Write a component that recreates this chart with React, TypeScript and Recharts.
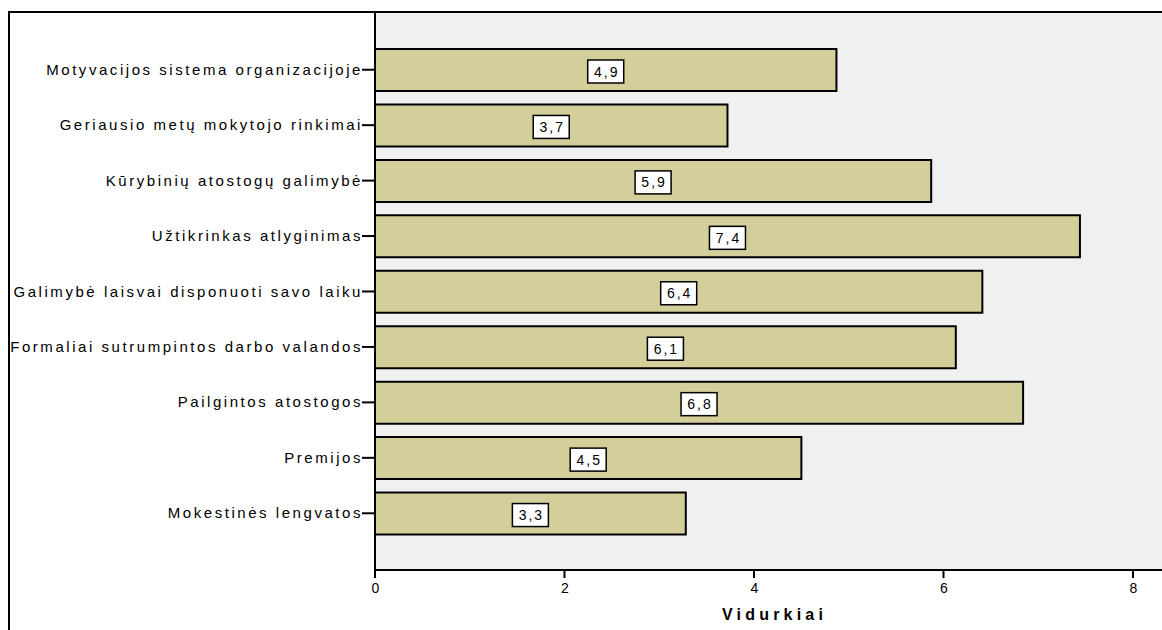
import { BarChart, Bar, XAxis, YAxis, CartesianGrid, LabelList } from "recharts";

const categories = [
  "Motyvacijos sistema organizacijoje",
  "Geriausio metų mokytojo rinkimai",
  "Kūrybinių atostogų galimybė",
  "Užtikrinkas atlyginimas",
  "Galimybė laisvai disponuoti savo laiku",
  "Formaliai sutrumpintos darbo valandos",
  "Pailgintos atostogos",
  "Premijos",
  "Mokestinės lengvatos",
];

const means = [4.87, 3.72, 5.87, 7.44, 6.41, 6.13, 6.84, 4.5, 3.28];

const meanLabels = ["4,9", "3,7", "5,9", "7,4", "6,4", "6,1", "6,8", "4,5", "3,3"];

const xTicks = [0, 2, 4, 6, 8];

const data = categories.map((name, i) => ({
  name,
  value: means[i],
  label: meanLabels[i],
}));

const font = "'Liberation Sans', Arial, sans-serif";

const BoxLabel = (props: any) => {
  const { x, y, width, height, value } = props;
  const cx = x + width / 2;
  const cy = y + height / 2 + 1.5;
  const w = 36;
  const h = 23;
  return (
    <g>
      <rect
        x={cx - w / 2}
        y={cy - h / 2}
        width={w}
        height={h}
        fill="#ffffff"
        stroke="#000000"
        strokeWidth={1.5}
      />
      <text
        x={cx + 1}
        y={cy + 5}
        textAnchor="middle"
        fontFamily={font}
        fontSize={14}
        fill="#000000"
        style={{ letterSpacing: "2px" }}
      >
        {value}
      </text>
    </g>
  );
};

const YTick = (props: any) => {
  const { x, y, payload } = props;
  return (
    <text
      x={x + 2}
      y={y + 5}
      textAnchor="end"
      fontFamily={font}
      fontSize={15}
      fill="#000"
      style={{ letterSpacing: "2.55px" }}
    >
      {payload.value}
    </text>
  );
};

const XTick = (props: any) => {
  const { x, y, payload } = props;
  return (
    <text
      x={x + 0.5}
      y={y + 9}
      textAnchor="middle"
      fontFamily={font}
      fontSize={14}
      fill="#000"
    >
      {payload.value}
    </text>
  );
};

const AxisTitle = (props: any) => {
  const { viewBox } = props;
  const cx = viewBox.x + viewBox.width / 2 + 6;
  return (
    <text
      x={cx}
      y={620}
      textAnchor="middle"
      fontFamily={font}
      fontSize={16}
      fontWeight="bold"
      fill="#000"
      style={{ letterSpacing: "4.2px" }}
    >
      Vidurkiai
    </text>
  );
};

const App = () => {
  return (
    <div
      style={{
        position: "absolute",
        left: 0,
        top: 0,
        width: 1162,
        height: 630,
        overflow: "hidden",
        background: "#ffffff",
        fontFamily: font,
      }}
    >
      <div
        style={{
          position: "absolute",
          left: 8,
          top: 11,
          width: 1200,
          height: 700,
          borderLeft: "2px solid #000",
          borderTop: "2px solid #000",
        }}
      />
      <div style={{ position: "absolute", left: 0, top: 0 }}>
        <BarChart
          width={1162}
          height={630}
          data={data}
          layout="vertical"
          margin={{ top: 13, right: 0, bottom: 0, left: 0 }}
          barSize={42}
        >
          <CartesianGrid
            fill="#f0f0f0"
            horizontal={false}
            vertical={false}
            stroke="none"
          />
          <XAxis
            type="number"
            domain={[0, 8.306]}
            ticks={xTicks}
            allowDataOverflow
            height={60}
            axisLine={{ stroke: "#000", strokeWidth: 2 }}
            tickLine={{ stroke: "#000", strokeWidth: 2 }}
            tickSize={8}
            tickMargin={6}
            tick={<XTick />}
            label={<AxisTitle />}
          />
          <YAxis
            type="category"
            dataKey="name"
            width={375}
            padding={{ top: 29, bottom: 29 }}
            axisLine={{ stroke: "#000", strokeWidth: 2 }}
            tickLine={{ stroke: "#000", strokeWidth: 2 }}
            tickSize={13}
            tickMargin={1}
            interval={0}
            tick={<YTick />}
          />
          <Bar
            dataKey="value"
            fill="#d3ce9a"
            stroke="#000"
            strokeWidth={2}
            isAnimationActive={false}
          >
            <LabelList dataKey="label" content={<BoxLabel />} />
          </Bar>
        </BarChart>
      </div>
    </div>
  );
};

export default App;
